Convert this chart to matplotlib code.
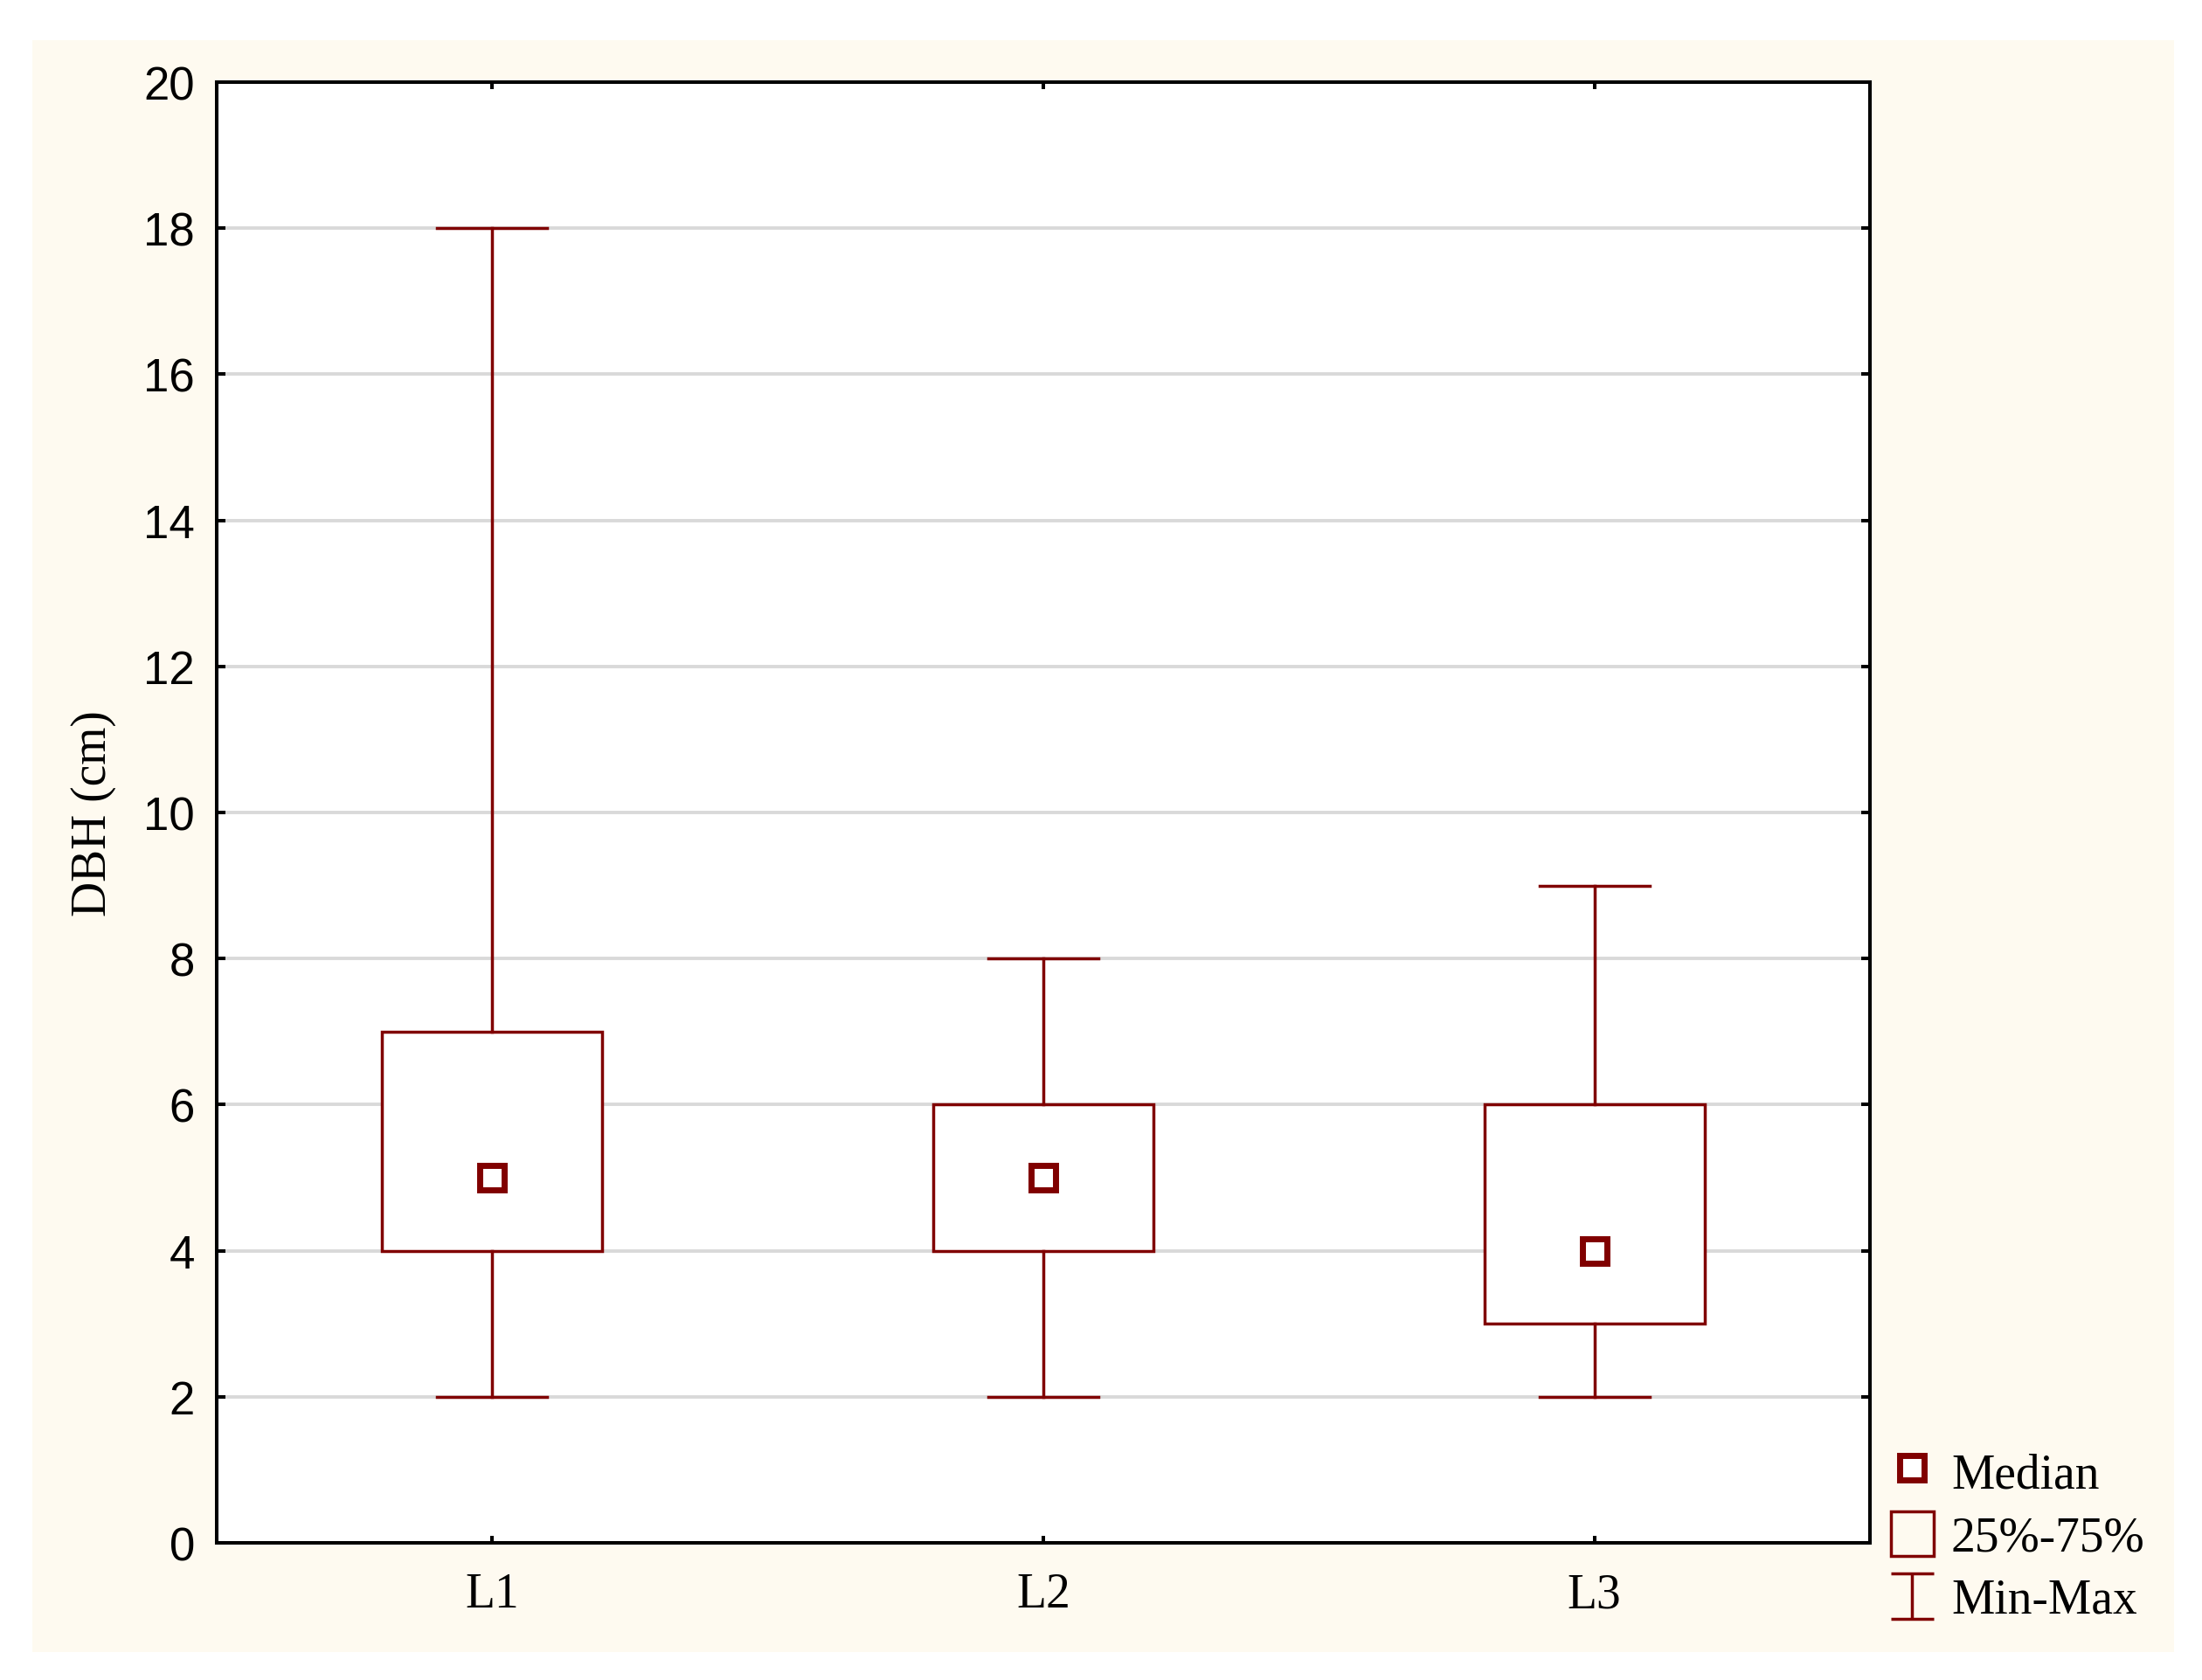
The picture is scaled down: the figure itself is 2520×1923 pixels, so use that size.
import numpy as np
import matplotlib
matplotlib.use('Agg')
import matplotlib.pyplot as plt
from matplotlib.lines import Line2D
from matplotlib.patches import Patch, Rectangle
from matplotlib.legend_handler import HandlerBase

# values
groups = ['L1', 'L2', 'L3']
dbh_min = [2, 2, 2]
dbh_q1 = [4, 4, 3]
dbh_median = [5, 5, 4]
dbh_q3 = [7, 6, 6]
dbh_max = [18, 8, 9]
y_ticks = [0, 2, 4, 6, 8, 10, 12, 14, 16, 18, 20]

RED = '#800000'
CREAM = '#FEFAF0'
GRID = '#D9D9D9'
SERIF = 'Liberation Serif'
SANS = 'Liberation Sans'


class HandlerMinMax(HandlerBase):
    '''
    Draws the I shaped whisker symbol in the legend
    '''
    def create_artists(self, legend, orig_handle, xdescent, ydescent,
                       width, height, fontsize, trans):
        x0, x1 = -xdescent, -xdescent + width
        y0, y1 = -ydescent, -ydescent + height
        xm = (x0 + x1) / 2.
        kw = dict(color=RED, lw=2.5, transform=trans, solid_capstyle='butt')
        return [Line2D([xm, xm], [y0, y1], **kw),
                Line2D([x0, x1], [y0, y0], **kw),
                Line2D([x0, x1], [y1, y1], **kw)]


fig = plt.figure(figsize=(25.2, 19.24), dpi=100, facecolor='white')
fig.patches.append(Rectangle((37 / 2520., 1 - 1892 / 1924.), (2488 - 37) / 2520., (1892 - 47) / 1924.,
                             transform=fig.transFigure, facecolor=CREAM, edgecolor='none', zorder=-10))

ax = fig.add_axes([248 / 2520., 1 - 1767 / 1924., (2140 - 248) / 2520., (1767 - 95) / 1924.])
ax.set_facecolor('white')

positions = np.arange(1, len(groups) + 1)
stats = []
for i in range(len(groups)):
    stats.append(dict(med=dbh_median[i], q1=dbh_q1[i], q3=dbh_q3[i],
                      whislo=dbh_min[i], whishi=dbh_max[i], fliers=[]))

ax.bxp(stats, positions=positions, widths=0.4, capwidths=0.2, patch_artist=True,
       showfliers=False,
       boxprops=dict(facecolor='white', edgecolor=RED, linewidth=2.5),
       whiskerprops=dict(color=RED, linewidth=2.5),
       capprops=dict(color=RED, linewidth=2.5),
       medianprops=dict(visible=False), zorder=3)
ax.plot(positions, dbh_median, ls='none', marker='s', ms=20, mew=5,
        mec=RED, mfc='white', zorder=4)

ax.set_xlim(0.5, len(groups) + 0.5)
ax.set_ylim(y_ticks[0], y_ticks[-1])
ax.set_yticks(y_ticks)
ax.set_xticks(positions)
ax.set_xticklabels(groups, family=SERIF, fontsize=40)
for lab in ax.get_yticklabels():
    lab.set_family(SANS)
    lab.set_fontsize(38)

ax.yaxis.grid(True, color=GRID, lw=2.8, zorder=0)
ax.set_axisbelow(True)
for sp in ax.spines.values():
    sp.set_linewidth(2.9)
    sp.set_color('black')

ax.tick_params(axis='y', direction='in', length=7, width=2.9, left=True, right=True, pad=18)
ax.tick_params(axis='x', direction='in', length=6, width=2.9, bottom=True, top=True, pad=24)

ax.set_ylabel('DBH (cm)', family=SERIF, fontsize=40)
ax.yaxis.set_label_coords(-0.061, 0.5)

h_med = Line2D([], [], ls='none', marker='s', ms=20, mew=5, mec=RED, mfc='white')
h_box = Patch(facecolor='none', edgecolor=RED, linewidth=2.5)
h_mm = Line2D([], [], color=RED)
fig.legend([h_med, h_box, h_mm], ['Median', '25%-75%', 'Min-Max'],
           handler_map={h_mm: HandlerMinMax()},
           loc='lower left', bbox_to_anchor=(2164 / 2520., 1 - 1859 / 1924.),
           frameon=False, borderpad=0, borderaxespad=0,
           handlelength=0.88, handleheight=1.05, handletextpad=0.36,
           labelspacing=0.27, prop={'family': SERIF, 'size': 40})

fig.savefig('out.png', dpi=100, facecolor='white')
